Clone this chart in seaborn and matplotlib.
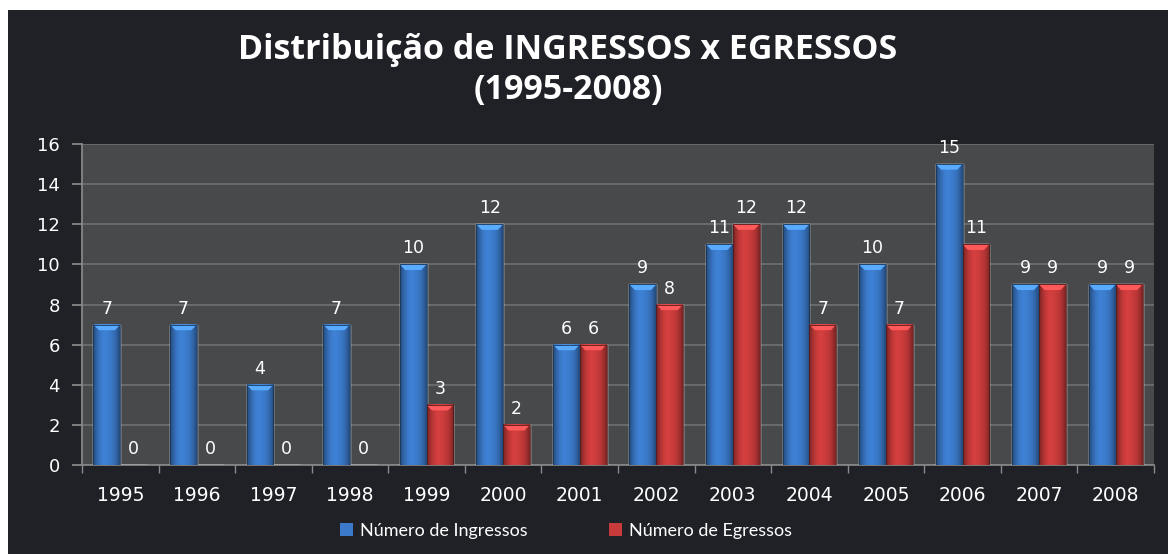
import numpy as np
import pandas as pd
import matplotlib
matplotlib.use("Agg")
import matplotlib.pyplot as plt
import matplotlib.colors as mcolors
from matplotlib.patches import Rectangle, Polygon, Patch
import seaborn as sns

############################################################################
# data
############################################################################
years = ['1995', '1996', '1997', '1998', '1999', '2000', '2001',
         '2002', '2003', '2004', '2005', '2006', '2007', '2008']
ingressos = [7, 7, 4, 7, 10, 12, 6, 9, 11, 12, 10, 15, 9, 9]
egressos = [0, 0, 0, 0, 3, 2, 6, 8, 12, 7, 7, 11, 9, 9]
series = ['Número de Ingressos', 'Número de Egressos']
title = 'Distribuição de INGRESSOS x EGRESSOS\n(1995-2008)'

df = pd.DataFrame({'ano': years * 2,
                   'valor': ingressos + egressos,
                   'serie': [series[0]] * len(years) + [series[1]] * len(years)})

############################################################################
# style
############################################################################
bg = '#1f2126'
plot_bg = '#48494b'
grid_col = '#737373'
col = {series[0]: '#3b7aca', series[1]: '#c93b3b'}

sns.set_theme(style="white")
plt.rcParams['font.family'] = ['DejaVu Sans']

fig = plt.figure(figsize=(11.68, 5.54), dpi=100)
fig.patch.set_facecolor('white')
fig.patches.append(Rectangle((8 / 1168, 0), 1, 1 - 10 / 554, transform=fig.transFigure,
                             facecolor=bg, edgecolor='none', zorder=-10))

ax = fig.add_axes([82 / 1168, 89 / 554, 1072 / 1168, 321 / 554])
ax.set_facecolor(plot_bg)

sns.barplot(data=df, x='ano', y='valor', hue='serie', palette=col,
            width=0.7, gap=0, ax=ax, legend=False, saturation=1, zorder=3)

##### cylinder-ish shading on each bar
def shade(c):
    base = np.array(mcolors.to_rgb(c))
    t = np.linspace(-1, 1, 60)
    k = 1 - 0.4 * np.abs(t) ** 2.5 + 0.06 * np.exp(-((t + 0.2) / 0.4) ** 2)
    arr = np.clip(base[None, :] * k[:, None], 0, 1)
    return arr[None, :, :]

bars = [p for p in ax.patches]
for i, bar in enumerate(bars):
    h = bar.get_height()
    if h <= 0:
        continue
    c = col[series[0]] if i < len(years) else col[series[1]]
    x0, w = bar.get_x(), bar.get_width()
    ax.imshow(shade(c), extent=[x0, x0 + w, 0, h], aspect='auto',
              zorder=3.5, interpolation='bilinear')
    light = np.clip(np.array(mcolors.to_rgb(c)) * 1.3 + 0.05, 0, 1)
    ax.add_patch(Polygon([(x0, h), (x0 + w, h), (x0 + 0.8 * w, h - 0.28), (x0 + 0.2 * w, h - 0.28)],
                         closed=True, facecolor=light, edgecolor='none', zorder=3.6))
    ax.add_patch(Rectangle((x0, 0), w, h, facecolor='none',
                           edgecolor=mcolors.to_rgb(c) * np.array(0.45), lw=0.6, zorder=3.7))

for cont in ax.containers:
    ax.bar_label(cont, labels=[str(int(v)) for v in cont.datavalues], padding=5,
                 color='white', fontsize=12.5, zorder=5)

ax.set_xlim(-0.5, len(years) - 0.5)
ax.set_ylim(0, 16)
ax.set_yticks(range(0, 17, 2))
ax.yaxis.grid(True, color=grid_col, lw=1.1, zorder=0)
ax.set_axisbelow(True)
ax.set_xlabel('')
ax.set_ylabel('')

for s in ['top', 'right']:
    ax.spines[s].set_visible(False)
ax.spines['left'].set_color('#8a8a8a')
ax.spines['bottom'].set_color('#8a8a8a')
ax.spines['bottom'].set_linewidth(1.2)

ax.set_xticks(np.arange(len(years) + 1) - 0.5, minor=True)
ax.tick_params(axis='x', which='major', length=0, pad=15, labelsize=13.5, colors='white')
ax.tick_params(axis='x', which='minor', length=6, color='#8a8a8a', bottom=True)
ax.tick_params(axis='y', length=7, color='#8a8a8a', pad=9, labelsize=13,
               left=True)
for t in ax.get_yticklabels():
    t.set_color('white')

fig.text(568 / 1168, 1 - 70 / 554, title, ha='center', va='center', color='white',
         fontsize=24.5, fontweight='bold', family=['Open Sans', 'DejaVu Sans'], linespacing=1.2)

handles = [Patch(facecolor=col[s], edgecolor='none') for s in series]
fig.legend(handles, series, loc='center', bbox_to_anchor=(566 / 1168, 23 / 554), ncol=2,
           frameon=False, labelcolor='white', handlelength=0.7, handleheight=0.7,
           handletextpad=0.4, columnspacing=4.5,
           prop={'family': ['Lato', 'DejaVu Sans'], 'size': 13})

plt.savefig('out.png', dpi=100, facecolor=fig.get_facecolor())
plt.close()
